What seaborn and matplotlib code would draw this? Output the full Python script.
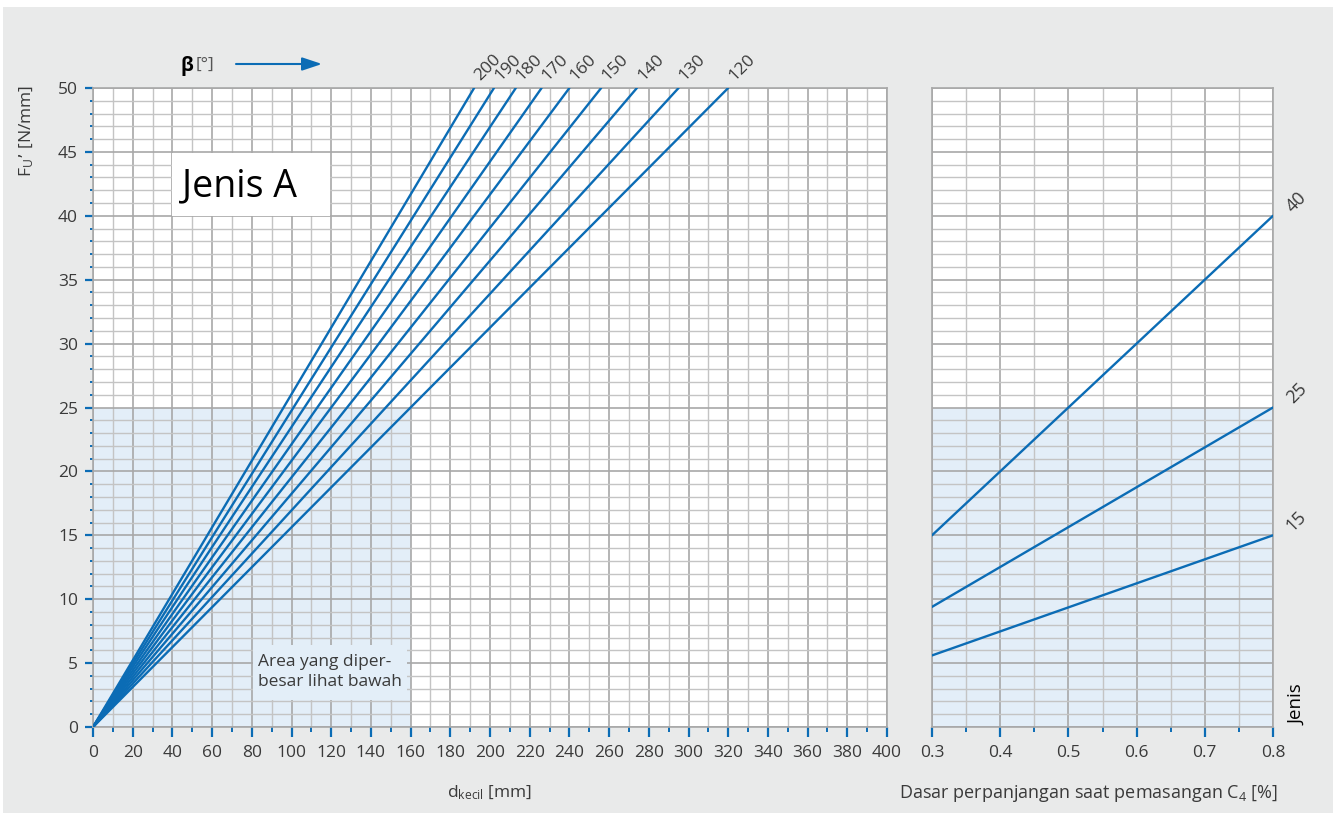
import numpy as np
import pandas as pd
import matplotlib
matplotlib.use("Agg")
import matplotlib.pyplot as plt
import seaborn as sns
from matplotlib.ticker import MultipleLocator
from matplotlib.patches import Rectangle

# Belt wrap angle beta [deg] and the pulley diameter at which each line reaches 50 N/mm
beta = [200, 190, 180, 170, 160, 150, 140, 130, 120]
d_at_top = [192, 202, 213, 226, 240, 256, 274, 295, 320]
fu_top = 50

# Right panel: belt type and force per mm over installation elongation C4
jenis = [15, 25, 40]
c4_range = [0.3, 0.8]
fu_c4_start = [5.6, 9.4, 15.0]
fu_c4_end = [15.0, 25.0, 40.0]

# Magnified area outline
shade_d = 160
shade_fu = 25

sns.set_theme(style="white")
plt.rcParams['font.family'] = ['Open Sans', 'DejaVu Sans']
plt.rcParams['mathtext.default'] = 'regular'

BLUE = '#0b6cb5'
SHADE = '#e3eef8'
GRID_MAJ = '#a8a8a8'
GRID_MIN = '#c4c4c4'
TXT = '#3a3a3a'
BG = '#e9eaea'

W, H = 1336, 815
fig = plt.figure(figsize=(W / 100, H / 100), dpi=100)
fig.patch.set_facecolor('white')
fig.add_artist(Rectangle((3 / W, 2 / H), 1330 / W, 806 / H, transform=fig.transFigure,
                         fc=BG, ec='none', zorder=-10))

ax1 = fig.add_axes([93 / W, 88 / H, 794 / W, 639 / H])
ax2 = fig.add_axes([932 / W, 88 / H, 341 / W, 639 / H])

# Long-form data for the left panel: each beta line from the origin
rows = []
for b, d in zip(beta, d_at_top):
    rows.append({'d': 0, 'fu': 0, 'beta': b})
    rows.append({'d': d, 'fu': fu_top, 'beta': b})
df_left = pd.DataFrame(rows)

rows = []
for j, s, e in zip(jenis, fu_c4_start, fu_c4_end):
    rows.append({'c4': c4_range[0], 'fu': s, 'jenis': j})
    rows.append({'c4': c4_range[1], 'fu': e, 'jenis': j})
df_right = pd.DataFrame(rows)

for ax in (ax1, ax2):
    ax.set_facecolor('white')
    ax.set_axisbelow(True)
    ax.set_ylim(0, 50)
    ax.yaxis.set_major_locator(MultipleLocator(5))
    ax.yaxis.set_minor_locator(MultipleLocator(1))
    ax.grid(which='major', color=GRID_MAJ, lw=1.2)
    ax.grid(which='minor', color=GRID_MIN, lw=1.0)
    for sp in ax.spines.values():
        sp.set_color(GRID_MAJ)
        sp.set_linewidth(1.2)
    ax.tick_params(axis='x', which='major', length=7.2, width=1.6, color=BLUE,
                   labelsize=12.5, labelcolor=TXT, pad=6, bottom=True)
    ax.tick_params(axis='x', which='minor', length=3.6, width=1.4, color=BLUE, bottom=True)

# Left panel
ax1.set_xlim(0, 400)
ax1.xaxis.set_major_locator(MultipleLocator(20))
ax1.xaxis.set_minor_locator(MultipleLocator(10))
ax1.tick_params(axis='y', which='major', length=5.8, width=1.6, color=BLUE,
                labelsize=12.5, labelcolor=TXT, pad=5, left=True)
ax1.tick_params(axis='y', which='minor', length=2.2, width=1.4, color=BLUE, left=True)
ax1.add_patch(Rectangle((0, 0), shade_d, shade_fu, fc=SHADE, ec='none', zorder=0.2))

sns.lineplot(data=df_left, x='d', y='fu', hue='beta', palette={b: BLUE for b in beta},
             legend=False, ax=ax1, lw=1.7, zorder=3)
ax1.set_xlabel('')
ax1.set_ylabel('')

for b, d in zip(beta, d_at_top):
    ax1.annotate(str(b), xy=(d, fu_top), xytext=(10, 14.5), textcoords='offset points',
                 rotation=45, ha='center', va='center', fontsize=12.5, color=TXT,
                 annotation_clip=False)

# "Jenis A" tag
ax1.add_patch(Rectangle((40, 40.0), 79.5, 4.95, fc='white', ec='none', zorder=1))
ax1.text(45, 42.3, 'Jenis A', fontsize=27, color='black', va='center', ha='left', zorder=2)

# Note on the magnified area
ax1.add_patch(Rectangle((80.6, 2.1), 77.5, 4.3, fc=SHADE, ec='none', zorder=1))
ax1.text(83, 4.3, 'Area yang diper-\nbesar lihat bawah', fontsize=12.5, color=TXT,
         va='center', ha='left', linespacing=1.3, zorder=2)

# Right panel
ax2.set_xlim(c4_range[0], c4_range[1])
ax2.xaxis.set_major_locator(MultipleLocator(0.1))
ax2.xaxis.set_minor_locator(MultipleLocator(0.05))
ax2.tick_params(axis='y', which='both', length=0, labelleft=False)
ax2.add_patch(Rectangle((c4_range[0], 0), c4_range[1] - c4_range[0], shade_fu,
                        fc=SHADE, ec='none', zorder=0.2))
sns.lineplot(data=df_right, x='c4', y='fu', hue='jenis', palette={j: BLUE for j in jenis},
             legend=False, ax=ax2, lw=1.7, zorder=3)
ax2.set_xlabel('')
ax2.set_ylabel('')
for j, e in zip(jenis, fu_c4_end):
    ax2.annotate(str(j), xy=(c4_range[1], e), xytext=(17, 10), textcoords='offset points',
                 rotation=45, ha='center', va='center', fontsize=13, color=TXT,
                 annotation_clip=False)

# Axis titles and header
fig.text(27 / W, 1 - 131 / H, r'$F_U$’ [N/mm]', rotation=90, ha='center', va='center',
         fontsize=12.5, color=TXT)
fig.text(490 / W, 1 - 793 / H, r'$d_{kecil}$ [mm]', ha='center', va='center',
         fontsize=12.5, color=TXT)
fig.text(1088 / W, 1 - 793 / H, r'Dasar perpanjangan saat pemasangan $C_4$ [%]',
         ha='center', va='center', fontsize=13, color=TXT)
fig.text(1297 / W, 1 - 705 / H, 'Jenis', rotation=90, ha='center', va='center',
         fontsize=13.5, color='black')
fig.text(180 / W, 1 - 66 / H, 'β', fontweight='bold', fontsize=14, color='black',
         ha='left', va='center')
fig.text(196 / W, 1 - 65 / H, '[°]', fontsize=12.5, color='#555555', ha='left', va='center')
ax1.annotate('', xy=(322, H - 64), xytext=(236, H - 64), xycoords='figure pixels',
             textcoords='figure pixels', annotation_clip=False,
             arrowprops=dict(arrowstyle='-|>,head_length=0.6,head_width=0.2',
                             color=BLUE, lw=1.5, mutation_scale=20, shrinkA=0, shrinkB=0))

fig.savefig('out.png', dpi=100)
